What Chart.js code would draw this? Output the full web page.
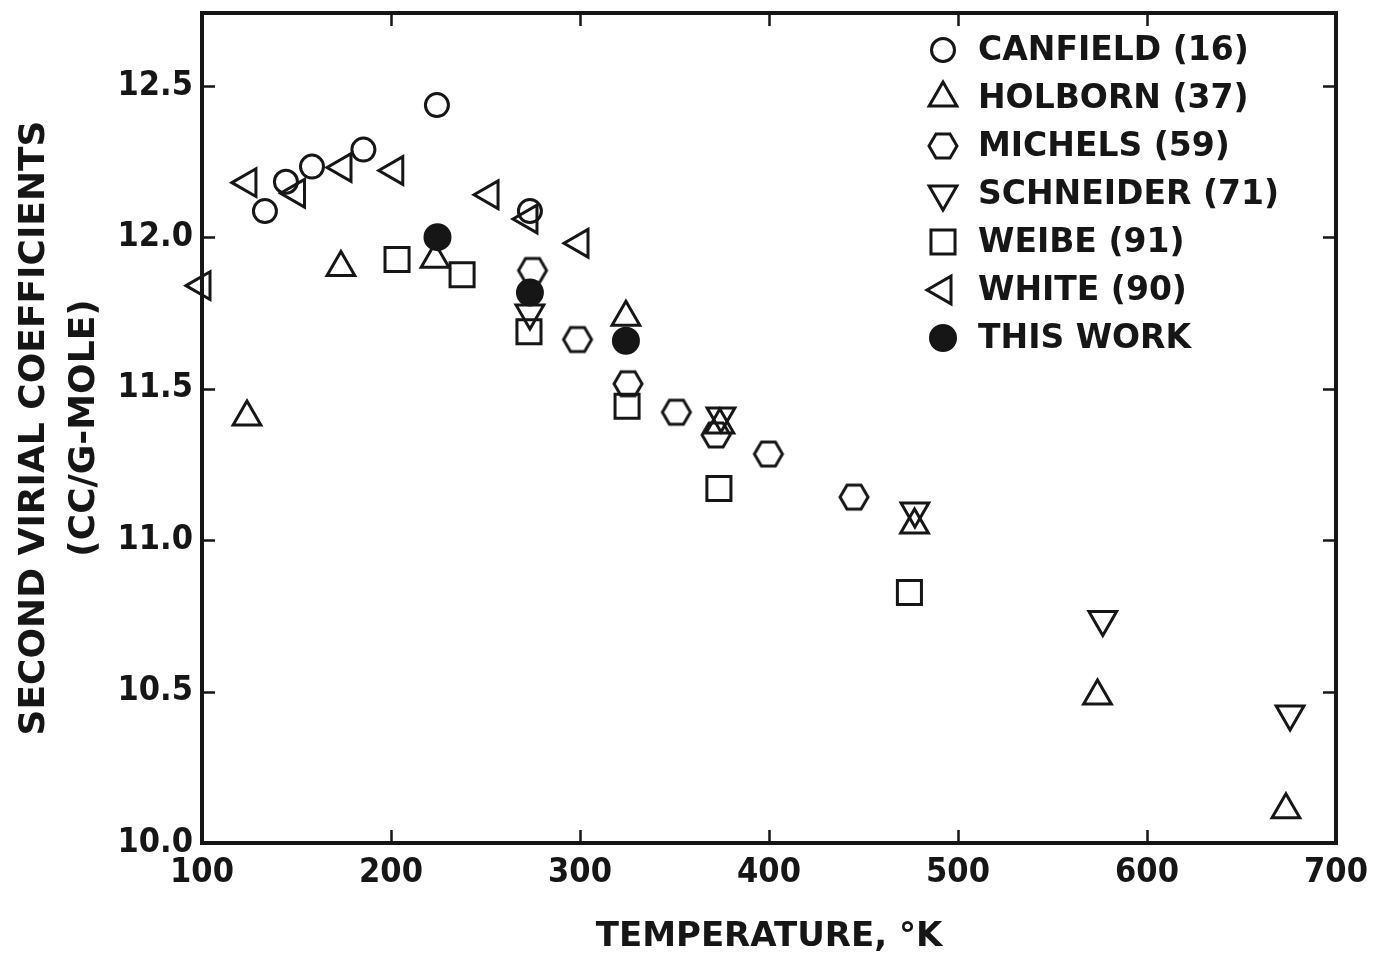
<!DOCTYPE html>
<html>
<head>
<meta charset="utf-8">
<title>Second virial coefficients</title>
<script src="https://cdn.jsdelivr.net/npm/chart.js@4.4.1/dist/chart.umd.min.js"></script>
<style>
  html, body { margin: 0; padding: 0; background: #fff; }
  #wrap { width: 1378px; height: 956px; }
</style>
</head>
<body>
<div id="wrap"><canvas id="virial"></canvas></div>
<script>
// temperature (K) / second virial coefficient (cc/g-mole), one pair of arrays per source
const canfieldT = [133.3, 144.4, 158.2, 185.4, 224.3, 273.5];
const canfieldB = [12.086, 12.183, 12.233, 12.289, 12.436, 12.086];

const holbornT = [123.8, 173.5, 223.3, 324.3, 374.0, 477.0, 573.8, 673.5];
const holbornB = [11.406, 11.90, 11.927, 11.736, 11.38, 11.05, 10.485, 10.11];

const michelsT = [274.9, 298.7, 325.4, 351.0, 372.0, 399.7, 445.0];
const michelsB = [11.89, 11.662, 11.516, 11.422, 11.347, 11.284, 11.142];

const schneiderT = [273.5, 374.6, 477.2, 576.6, 675.7];
const schneiderB = [11.75, 11.41, 11.096, 10.738, 10.426];

const weibeT = [203.2, 237.6, 273.0, 324.9, 373.5, 474.3];
const weibeB = [11.926, 11.876, 11.688, 11.442, 11.17, 10.827];

const whiteT = [100.0, 124.3, 150.0, 174.6, 202.0, 252.4, 273.0, 300.0];
const whiteB = [11.84, 12.18, 12.145, 12.23, 12.22, 12.14, 12.06, 11.98];

const thisWorkT = [224.6, 273.5, 324.3];
const thisWorkB = [12.0, 11.817, 11.658];

const seriesLabels = ['CANFIELD (16)', 'HOLBORN (37)', 'MICHELS (59)', 'SCHNEIDER (71)',
                      'WEIBE (91)', 'WHITE (90)', 'THIS WORK'];

const xTickStep = 100;
const yTickStep = 0.5;

const INK = '#161616';
const TICK_FONT = '"DejaVu Sans Condensed", "DejaVu Sans", sans-serif';
const LABEL_FONT = '"DejaVu Sans", sans-serif';

function pairs(xs, ys) {
  return xs.map((x, i) => ({ x: x, y: ys[i] }));
}

// Chart.js has no hexagon point style, so build one on a small canvas
function hexagonMarker(r, lw) {
  const c = document.createElement('canvas');
  c.width = c.height = Math.ceil(r * 2 + lw * 2 + 2);
  const g = c.getContext('2d');
  const m = c.width / 2;
  g.beginPath();
  for (let k = 0; k < 6; k++) {
    const a = k * Math.PI / 3;
    g.lineTo(m + r * Math.cos(a), m + r * Math.sin(a));
  }
  g.closePath();
  g.lineWidth = lw;
  g.strokeStyle = INK;
  g.stroke();
  return c;
}

function markerSet(label, data, style, radius, rotation, filled) {
  return {
    label: label,
    data: data,
    pointStyle: style,
    pointRadius: radius,
    pointRotation: rotation,
    pointBorderWidth: 3,
    pointBorderColor: INK,
    pointBackgroundColor: filled ? INK : 'rgba(0,0,0,0)',
    showLine: false,
    clip: false
  };
}

const datasets = [
  markerSet(seriesLabels[0], pairs(canfieldT, canfieldB), 'circle', 11.5, 0, false),
  markerSet(seriesLabels[1], pairs(holbornT, holbornB), 'triangle', 16, 0, false),
  markerSet(seriesLabels[2], pairs(michelsT, michelsB), hexagonMarker(14, 3), 14, 0, false),
  markerSet(seriesLabels[3], pairs(schneiderT, schneiderB), 'triangle', 16, 180, false),
  markerSet(seriesLabels[4], pairs(weibeT, weibeB), 'rect', 17, 0, false),
  markerSet(seriesLabels[5], pairs(whiteT, whiteB), 'triangle', 16, -90, false),
  markerSet(seriesLabels[6], pairs(thisWorkT, thisWorkB), 'circle', 12.5, 0, true)
];

// boxed frame with short inward tick marks on all four sides
const frameTicks = {
  id: 'frameTicks',
  afterDraw(chart) {
    const { ctx, chartArea: a, scales: { x, y } } = chart;
    const len = 13;
    ctx.save();
    ctx.strokeStyle = INK;
    ctx.lineWidth = 2.5;
    ctx.beginPath();
    x.ticks.forEach(t => {
      if (t.value <= x.min || t.value >= x.max) return;
      const px = Math.round(x.getPixelForValue(t.value)) + 0.5;
      ctx.moveTo(px, a.bottom); ctx.lineTo(px, a.bottom - len);
      ctx.moveTo(px, a.top); ctx.lineTo(px, a.top + len);
    });
    y.ticks.forEach(t => {
      if (t.value <= y.min || t.value >= y.max) return;
      const py = Math.round(y.getPixelForValue(t.value)) + 0.5;
      ctx.moveTo(a.left, py); ctx.lineTo(a.left + len, py);
      ctx.moveTo(a.right, py); ctx.lineTo(a.right - len, py);
    });
    ctx.stroke();
    ctx.lineWidth = 4;
    ctx.strokeRect(a.left, a.top, a.right - a.left, a.bottom - a.top);
    ctx.restore();
  }
};

// key in the upper right corner of the plot
const insetKey = {
  id: 'insetKey',
  afterDatasetsDraw(chart) {
    const { ctx, chartArea: a } = chart;
    const symX = a.right - 393;
    const textX = symX + 35;
    const top = a.top + 37;
    const rowGap = 48;
    ctx.save();
    ctx.font = 'bold 33px ' + LABEL_FONT;
    ctx.textBaseline = 'middle';
    ctx.textAlign = 'left';
    chart.data.datasets.forEach((ds, i) => {
      const yy = top + i * rowGap;
      ctx.strokeStyle = INK;
      ctx.fillStyle = ds.pointBackgroundColor;
      ctx.lineWidth = ds.pointBorderWidth;
      Chart.helpers.drawPoint(ctx, {
        pointStyle: ds.pointStyle,
        rotation: ds.pointRotation,
        radius: ds.pointRadius,
        borderWidth: ds.pointBorderWidth
      }, symX, yy);
      ctx.fillStyle = INK;
      ctx.fillText(ds.label, textX, yy + 1);
    });
    ctx.restore();
  }
};

new Chart(document.getElementById('virial'), {
  type: 'scatter',
  data: { datasets: datasets },
  options: {
    responsive: true,
    maintainAspectRatio: false,
    animation: false,
    events: [],
    layout: { autoPadding: false, padding: { top: 13, right: 42, left: 0, bottom: 0 } },
    plugins: {
      legend: { display: false },
      tooltip: { enabled: false }
    },
    scales: {
      x: {
        type: 'linear',
        min: 100,
        max: 700,
        afterFit: s => { s.height = 113; s.paddingLeft = 0; s.paddingRight = 0; },
        grid: { display: false, drawTicks: false },
        border: { display: false },
        ticks: {
          stepSize: xTickStep,
          padding: 10,
          color: INK,
          font: { family: TICK_FONT, size: 34, weight: 'bold' },
          maxRotation: 0
        },
        title: {
          display: true,
          text: 'TEMPERATURE, °K',
          color: INK,
          font: { family: LABEL_FONT, size: 34, weight: 'bold', lineHeight: 1 },
          padding: { top: 0, bottom: 2 }
        }
      },
      y: {
        type: 'linear',
        min: 10,
        max: 12.74,
        afterFit: s => { s.width = 202; s.paddingTop = 0; s.paddingBottom = 0; },
        grid: { display: false, drawTicks: false },
        border: { display: false },
        ticks: {
          stepSize: yTickStep,
          includeBounds: false,
          padding: 9,
          color: INK,
          font: { family: TICK_FONT, size: 34, weight: 'bold' },
          callback: v => v.toFixed(1)
        },
        title: {
          display: true,
          text: ['SECOND VIRIAL COEFFICIENTS', '(CC/G-MOLE)'],
          color: INK,
          font: { family: LABEL_FONT, size: 36, weight: 'bold', lineHeight: 1.39 },
          padding: { top: 10, bottom: 0 }
        }
      }
    }
  },
  plugins: [frameTicks, insetKey]
});
</script>
</body>
</html>
